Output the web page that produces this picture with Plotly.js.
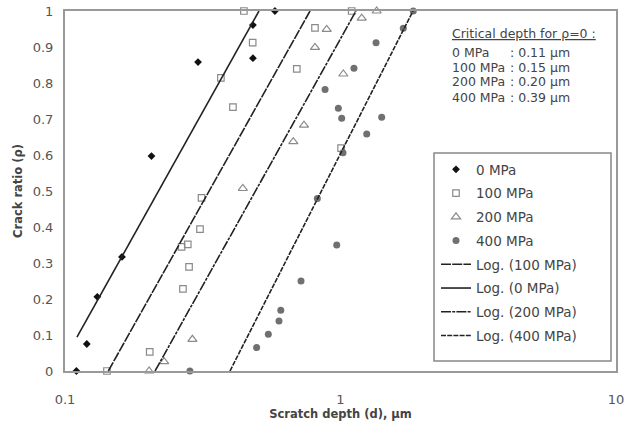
<!DOCTYPE html>
<html><head><meta charset="utf-8">
<script src="https://cdn.plot.ly/plotly-3.0.1.min.js"></script>
<style>html,body{margin:0;padding:0;background:#fff;}#chart{width:629px;height:423px;}</style>
</head><body><div id="chart"></div>
<script>
// ---- data ----
const x0MPa = [0.11, 0.12, 0.131, 0.161, 0.206, 0.304, 0.481, 0.481, 0.578];
const y0MPa = [0, 0.075, 0.206, 0.317, 0.597, 0.858, 0.961, 0.869, 1.0];

const x100MPa = [0.142, 0.203, 0.268, 0.282, 0.265, 0.279, 0.309, 0.313, 0.407, 0.368, 0.48, 0.446, 0.694, 0.808, 1.005, 1.098];
const y100MPa = [0, 0.053, 0.228, 0.289, 0.345, 0.352, 0.394, 0.481, 0.733, 0.814, 0.912, 1.0, 0.839, 0.953, 0.619, 1.0];

const x200MPa = [0.202, 0.229, 0.29, 0.442, 0.674, 0.737, 1.024, 0.808, 0.891, 1.194, 1.353];
const y200MPa = [0, 0.026, 0.088, 0.507, 0.637, 0.683, 0.825, 0.899, 0.949, 0.98, 1.0];

const x400MPa = [0.284, 0.496, 0.547, 0.598, 0.607, 0.719, 0.824, 0.969, 1.021, 1.245, 0.982, 1.01, 1.411, 0.879, 1.119, 1.346, 1.69, 1.837];
const y400MPa = [0, 0.065, 0.102, 0.139, 0.169, 0.25, 0.479, 0.35, 0.606, 0.658, 0.73, 0.702, 0.705, 0.782, 0.841, 0.912, 0.952, 1.0];

// logarithmic trend lines (end points)
const fit0X = [0.1105, 0.506],  fit0Y = [0.094, 1];
const fit100X = [0.1436, 0.775], fit100Y = [0, 1];
const fit200X = [0.2122, 1.138], fit200Y = [0, 1];
const fit400X = [0.397, 1.833],  fit400Y = [0, 1];

const seriesNames = ["0 MPa", "100 MPa", "200 MPa", "400 MPa"];
const critLabels = ["0 MPa", "100 MPa", "200 MPa", "400 MPa"];
const critDepth = ["0.11", "0.15", "0.20", "0.39"];

const xTickVals = [0.1, 1, 10];
const xTickText = ["0.1", "1", "10"];
const yTickVals = [0, 0.1, 0.2, 0.3, 0.4, 0.5, 0.6, 0.7, 0.8, 0.9, 1];
const yTickText = ["0", "0.1", "0.2", "0.3", "0.4", "0.5", "0.6", "0.7", "0.8", "0.9", "1"];

// ---- chart ----
const FONT = "DejaVu Sans, Arial, sans-serif";
const W = 629, H = 423, ML = 65, MR = 13, MT = 11, MB = 52;
const pw = W - ML - MR, ph = H - MT - MB;
const px = v => (v - ML) / pw;
const py = v => (H - MB - v) / ph;

function pts(name, x, y, marker, grp) {
  return {type: "scatter", mode: "markers", name: name, x: x, y: y, marker: marker,
          cliponaxis: false, legendgroup: grp};
}
function fit(name, x, y, dash, grp) {
  return {type: "scatter", mode: "lines", name: name, x: x, y: y,
          line: {color: "#222", width: 1.6, dash: dash}, cliponaxis: false, legendgroup: grp};
}

const traces = [
  pts(seriesNames[0], x0MPa, y0MPa, {symbol: "diamond", size: 6, color: "#111"}, "a"),
  pts(seriesNames[1], x100MPa, y100MPa, {symbol: "square-open", size: 6.5, color: "#8a8a8a", line: {width: 1.2}}, "b"),
  pts(seriesNames[2], x200MPa, y200MPa, {symbol: "triangle-up-open", size: 8, color: "#8a8a8a", line: {width: 1.2}}, "c"),
  pts(seriesNames[3], x400MPa, y400MPa, {symbol: "circle", size: 7, color: "#707070"}, "d"),
  fit("Log. (100 MPa)", fit100X, fit100Y, "10px,1.2px", "e"),
  fit("Log. (0 MPa)", fit0X, fit0Y, "solid", "f"),
  fit("Log. (200 MPa)", fit200X, fit200Y, "10px,1.2px,3px,1.2px", "g"),
  fit("Log. (400 MPa)", fit400X, fit400Y, "5px,1.2px", "h")
];

const TF = {family: FONT, size: 12.5, color: "#444"};
const annX1 = px(450), annX2 = px(508);
const annotations = [{
  xref: "paper", yref: "paper", x: annX1, y: py(33), xanchor: "left", yanchor: "middle",
  text: "<u>Critical depth for ρ=0 :</u>", showarrow: false, font: TF
}];
const rowY = [52, 67, 82, 97];
critLabels.forEach((lab, i) => {
  annotations.push({xref: "paper", yref: "paper", x: annX1, y: py(rowY[i]), xanchor: "left", yanchor: "middle",
    text: lab, showarrow: false, font: TF});
  annotations.push({xref: "paper", yref: "paper", x: annX2, y: py(rowY[i]), xanchor: "left", yanchor: "middle",
    text: ": " + critDepth[i] + " µm", showarrow: false, font: TF});
});

const layout = {
  width: W, height: H,
  margin: {l: ML, r: MR, t: MT, b: MB, pad: 0},
  paper_bgcolor: "#fff", plot_bgcolor: "#fff",
  font: {family: FONT, color: "#444", size: 12},
  showlegend: true,
  legend: {
    x: px(436), y: py(154), xanchor: "left", yanchor: "top",
    bgcolor: "rgba(0,0,0,0)", borderwidth: 0,
    traceorder: "grouped", tracegroupgap: 3.2,
    font: {family: FONT, size: 13.5, color: "#444"}, itemwidth: 30
  },
  xaxis: {
    type: "log", range: [-1, 1], tickvals: xTickVals, ticktext: xTickText,
    showgrid: false, zeroline: false, showline: true, mirror: true,
    linecolor: "#999", linewidth: 2, ticks: "", ticklabelstandoff: 15,
    tickfont: {family: FONT, size: 13, color: "#555"},
    title: {text: "<b>Scratch depth (d), µm</b>", font: {family: FONT, size: 11.5, color: "#444"}, standoff: 3}
  },
  yaxis: {
    range: [0, 1], tickvals: yTickVals, ticktext: yTickText,
    showgrid: false, zeroline: false, showline: true, mirror: true,
    linecolor: "#999", linewidth: 2, ticks: "", ticklabelstandoff: 7,
    tickfont: {family: FONT, size: 13, color: "#555"},
    title: {text: "<b>Crack ratio (ρ)</b>", font: {family: FONT, size: 11.5, color: "#444"}, standoff: 8}
  },
  shapes: [{
    type: "rect", xref: "paper", yref: "paper", layer: "above",
    x0: px(434), x1: px(611), y0: py(361), y1: py(153),
    line: {color: "#888", width: 1.5}, fillcolor: "rgba(255,255,255,0)"
  }],
  annotations: annotations
};

Plotly.newPlot("chart", traces, layout, {displayModeBar: false, staticPlot: true});
</script></body></html>
